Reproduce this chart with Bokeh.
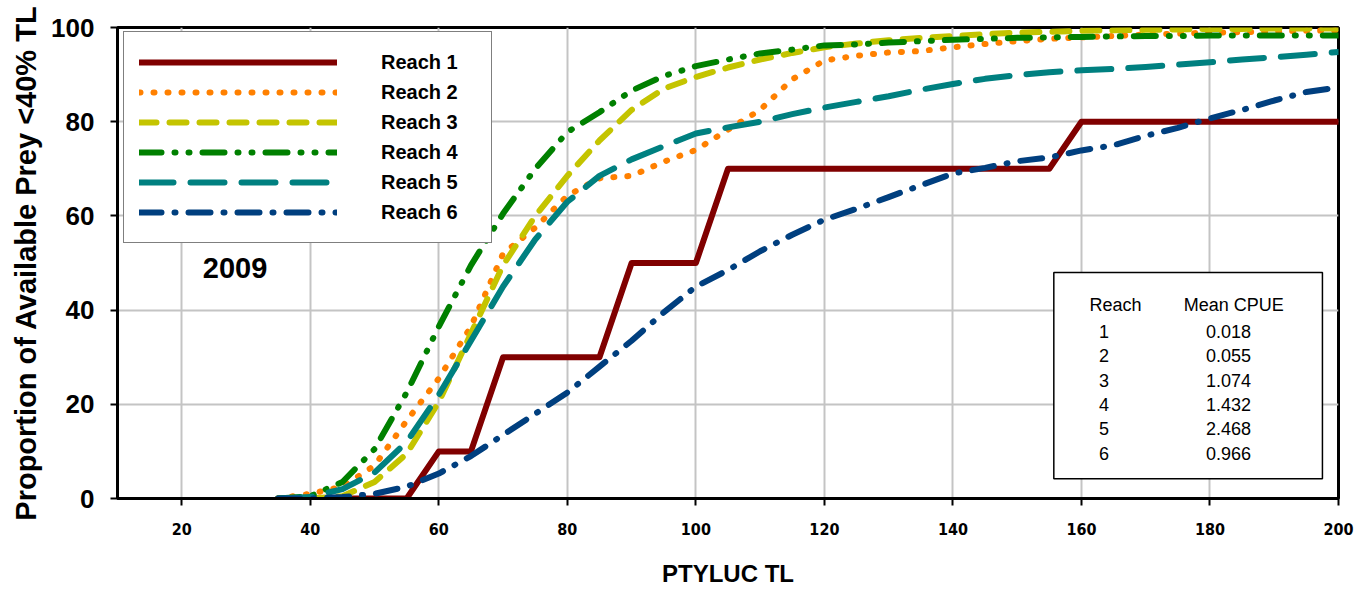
from bokeh.plotting import figure
from bokeh.models import Label, Legend, LegendItem, FixedTicker, Range1d
from bokeh.embed import file_html
from bokeh.resources import INLINE

# Total length (mm) of PTYLUC
tl = list(range(35, 205, 5))

# Cumulative proportion (%) of available prey below 40% of TL, per reach
reach1 = [0, 0, 0, 0, 0, 10, 10, 30, 30, 30, 30, 50, 50, 50, 70,
          70, 70, 70, 70, 70, 70, 70, 70, 70, 70,
          80, 80, 80, 80, 80, 80, 80, 80, 80]
reach2 = [0, 1, 2.5, 7, 16.5, 25.5, 36.5, 52, 57.5, 64.3, 68, 68.5, 71.5, 74,
          78.3, 82.5, 89, 93, 94, 94.7, 95, 95.8, 96.5, 97.1, 97.6, 97.9,
          98.2, 98.5, 98.7, 98.9, 99, 99.2, 99.3, 99.4]
reach3 = [0, 0, 0.5, 3.5, 9.5, 20.5, 35, 49.5, 60, 68.5, 76, 82.5, 87, 89.5,
          91.5, 93.2, 94.6, 95.8, 96.6, 97.3, 97.8, 98.2, 98.6, 98.9, 99.1,
          99.3, 99.4, 99.5, 99.6, 99.7, 99.7, 99.8, 99.8, 99.8]
reach4 = [0, 0.5, 3.5, 10.5, 22.5, 36.5, 49.5, 60.5, 70, 77.8, 82, 86.6, 89.7,
          91.8, 93.2, 94.5, 95.3, 96.2, 96.4, 96.8, 97.1, 97.4, 97.6, 97.8,
          97.9, 98, 98.1, 98.2, 98.2, 98.3, 98.3, 98.3, 98.3, 98.3]
reach5 = [0, 0.3, 2, 5.5, 12, 22, 33.5, 45, 55, 63, 68.5, 72, 74.8, 77.5,
          78.8, 80, 81.6, 83, 84.2, 85.4, 86.8, 88, 89.1, 89.9, 90.5, 90.9,
          91.2, 91.6, 92.1, 92.6, 93.2, 93.7, 94.2, 94.8]
reach6 = [0, 0, 0.3, 1, 2.5, 5.3, 9, 13.5, 18, 22.5, 28, 33.5, 39.5, 45,
          48.5, 52.5, 56, 59.2, 61.5, 64, 66.5, 69, 70.2, 71.6, 72.4, 73.9,
          75, 77, 78.7, 80.7, 82.5, 84.5, 86.3, 87.3]

series_names = ["Reach 1", "Reach 2", "Reach 3", "Reach 4", "Reach 5", "Reach 6"]
x_ticks = [20, 40, 60, 80, 100, 120, 140, 160, 180, 200]
y_ticks = [0, 20, 40, 60, 80, 100]

# Mean CPUE table
table_reach = ["1", "2", "3", "4", "5", "6"]
table_cpue = ["0.018", "0.055", "1.074", "1.432", "2.468", "0.966"]

year_label = "2009"

FONT = "Liberation Sans"

p = figure(width=1370, height=590, output_backend="svg", toolbar_location=None,
           x_range=Range1d(10, 200), y_range=Range1d(0, 100),
           min_border_left=117, min_border_right=32, min_border_top=27,
           min_border_bottom=92)
p.background_fill_color = "white"
p.border_fill_color = "white"
p.outline_line_color = "black"
p.outline_line_width = 3

# grid
p.xgrid.ticker = FixedTicker(ticks=x_ticks)
p.ygrid.ticker = FixedTicker(ticks=y_ticks)
for g in (p.xgrid, p.ygrid):
    g.grid_line_color = "#c4c4c4"
    g.grid_line_width = 2

# axes
p.xaxis.ticker = FixedTicker(ticks=x_ticks)
p.yaxis.ticker = FixedTicker(ticks=y_ticks)
for ax in (p.xaxis, p.yaxis):
    ax.axis_line_color = "black"
    ax.axis_line_width = 3
    ax.major_tick_line_color = "black"
    ax.major_tick_line_width = 2
    ax.major_tick_in = 0
    ax.major_tick_out = 7
    ax.minor_tick_line_color = None
    ax.major_label_text_font = FONT
    ax.major_label_text_font_style = "bold"
    ax.major_label_text_color = "black"
    ax.axis_label_text_font = FONT
    ax.axis_label_text_font_style = "bold"
    ax.axis_label_text_color = "black"

p.xaxis.major_label_text_font = "DejaVu Sans Condensed"
p.xaxis.major_label_text_font_size = "16px"
p.xaxis.major_label_standoff = 17
p.xaxis.axis_label = "PTYLUC TL"
p.xaxis.axis_label_text_font_size = "24px"
p.xaxis.axis_label_standoff = 22

p.yaxis.major_label_text_font_size = "26px"
p.yaxis.major_label_standoff = 16
p.yaxis.axis_label = "Proportion of Available Prey <40% TL"
p.yaxis.axis_label_text_font_size = "29px"
p.yaxis.axis_label_standoff = 6

# curves
styles = [
    dict(color="#800000", dash="solid", width=6),
    dict(color="#ff8000", dash="1 13", width=6),
    dict(color="#c4c400", dash="17 13", width=6),
    dict(color="#008000", dash="22 13 1 13 1 13", width=6),
    dict(color="#008080", dash="34 17", width=6),
    dict(color="#003f7f", dash="22 13 1 13", width=6),
]
series = [reach1, reach2, reach3, reach4, reach5, reach6]

items = []
for name, ys, st in zip(series_names, series, styles):
    r = p.line(tl, ys, line_color=st["color"], line_width=st["width"],
               line_dash=st["dash"], line_cap="round", line_join="round")
    items.append(LegendItem(label=name, renderers=[r]))

legend = Legend(items=items, location=(6, 255))
legend.glyph_width = 198
legend.glyph_height = 30
legend.label_height = 30
legend.label_width = 95
legend.label_standoff = 44
legend.spacing = 0
legend.padding = 15
legend.margin = 0
legend.border_line_color = "black"
legend.border_line_width = 1.5
legend.background_fill_color = "white"
legend.background_fill_alpha = 1
legend.label_text_font = FONT
legend.label_text_font_style = "bold"
legend.label_text_font_size = "20px"
legend.label_text_color = "black"
p.add_layout(legend, "center")

# year label
p.add_layout(Label(x=28.3, y=49, text=year_label, text_font=FONT,
                   text_font_style="bold", text_font_size="29px",
                   text_align="center", text_baseline="middle",
                   text_color="black"))

# CPUE table box
p.quad(left=[155.7], right=[197.5], bottom=[4.2], top=[48.0],
       fill_color="white", line_color="black", line_width=1.5)

col1_x, col2_x = 163.5, 182.9
p.add_layout(Label(x=165.3, y=41.0, text="Reach", text_font=FONT,
                   text_font_size="18px", text_align="center",
                   text_baseline="middle", text_color="black"))
p.add_layout(Label(x=183.7, y=41.0, text="Mean CPUE", text_font=FONT,
                   text_font_size="18px", text_align="center",
                   text_baseline="middle", text_color="black"))
row_y = 35.5
for rid, cp in zip(table_reach, table_cpue):
    p.add_layout(Label(x=col1_x, y=row_y, text=rid, text_font=FONT,
                       text_font_size="18px", text_align="center",
                       text_baseline="middle", text_color="black"))
    p.add_layout(Label(x=col2_x, y=row_y, text=cp, text_font=FONT,
                       text_font_size="18px", text_align="center",
                       text_baseline="middle", text_color="black"))
    row_y -= 5.18

open("out.html", "w").write(file_html(p, INLINE))
